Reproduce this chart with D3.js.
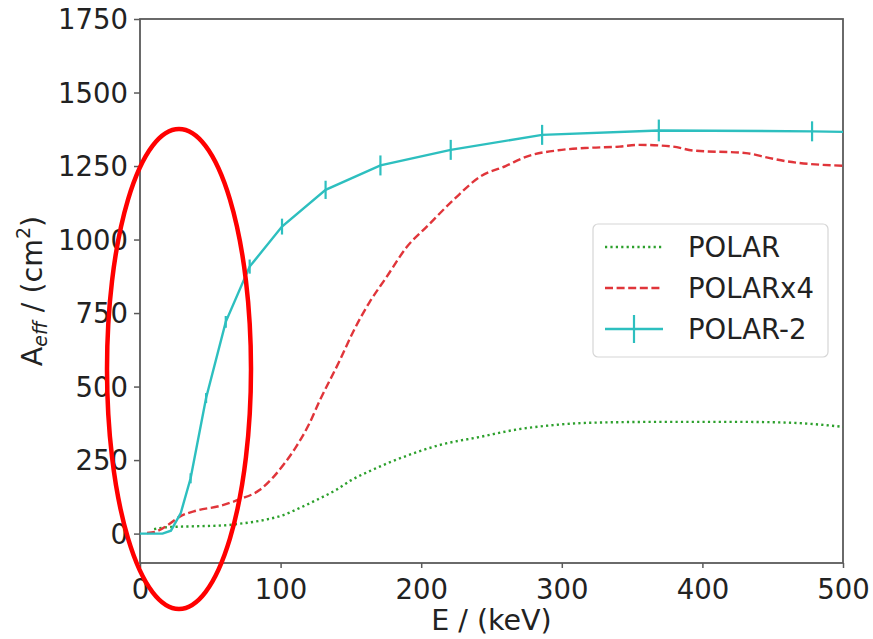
<!DOCTYPE html>
<html>
<head>
<meta charset="utf-8">
<script src="https://cdn.jsdelivr.net/npm/d3@7"></script>
<style>
  html, body { margin: 0; padding: 0; background: #fff; }
  svg { display: block; font-family: "DejaVu Sans", sans-serif; }
</style>
</head>
<body>
<svg id="chart" width="873" height="639"></svg>
<script>
// ----- data -----
// POLAR (green, dotted)
const polarE = [10, 20, 40, 60, 70, 90, 100, 114, 125, 140, 150, 165, 191, 213, 242, 268, 294, 320, 372, 424, 463, 480, 500];
const polarA = [15, 22, 25, 28, 33, 48, 60, 88, 113, 150, 181, 216, 267, 301, 329, 354, 369, 377, 380, 380, 377, 372, 363];

// POLARx4 (red, dashed)
const polarX4E = [5, 12, 20, 28, 40, 56, 71, 85, 95, 103, 111, 120, 128, 142, 152, 163, 175, 190, 204, 223, 242, 260, 275, 300, 320, 341, 355, 379, 393, 431, 448, 460, 500];
const polarX4A = [2, 8, 30, 57, 78, 93, 117, 148, 193, 240, 295, 370, 454, 588, 690, 785, 870, 976, 1044, 1135, 1214, 1250, 1282, 1305, 1312, 1316, 1322, 1316, 1303, 1294, 1277, 1266, 1251];

// POLAR-2 (cyan, with error bars)
const polar2E   = [0, 8, 16, 22, 29, 36, 47, 61, 78, 101, 132, 171, 221, 286, 369, 478, 500];
const polar2A   = [0, 0, 0, 10, 70, 188, 461, 720, 908, 1044, 1169, 1252, 1305, 1356, 1371, 1368, 1366];
const polar2Err = [0, 0, 0, 0, 0, 17, 17, 20, 24, 27, 31, 34, 34, 34, 37, 34, 0];

const xTicks = [0, 100, 200, 300, 400, 500];
const yTicks = [0, 250, 500, 750, 1000, 1250, 1500, 1750];
const legendLabels = ['POLAR', 'POLARx4', 'POLAR-2'];

// ----- layout -----
const svg = d3.select('#chart');
const mLeft = 140, mRight = 843, mTop = 19, mBottom = 563;
const fontSize = 27.5;
const textColor = '#222';
const spineColor = '#5a5a5a';

const x = d3.scaleLinear().domain([0, 500]).range([mLeft, mRight]);
const y = d3.scaleLinear().domain([-100, 1750]).range([mBottom, mTop]);

const colors = { polar: '#2ca02c', x4: '#e0353a', p2: '#2dbfbf' };

// axes
const xAxis = svg.append('g')
  .attr('transform', `translate(0,${mBottom})`)
  .call(d3.axisBottom(x).tickValues(xTicks).tickSize(5).tickPadding(5).tickFormat(d3.format('d')));
const yAxis = svg.append('g')
  .attr('transform', `translate(${mLeft},0)`)
  .call(d3.axisLeft(y).tickValues(yTicks).tickSize(6).tickPadding(6).tickFormat(d3.format('d')));

[xAxis, yAxis].forEach(g => {
  g.select('.domain').remove();
  g.selectAll('.tick line').attr('stroke', spineColor).attr('stroke-width', 1.5);
  g.selectAll('.tick text')
    .attr('fill', textColor)
    .style('font-size', fontSize + 'px')
    .style('font-family', '"DejaVu Sans", sans-serif');
});
xAxis.selectAll('.tick text').attr('dy', '0.93em');
yAxis.selectAll('.tick text').attr('dy', '0.36em');

// frame (all four spines)
svg.append('rect')
  .attr('x', mLeft).attr('y', mTop)
  .attr('width', mRight - mLeft).attr('height', mBottom - mTop)
  .attr('fill', 'none')
  .attr('stroke', spineColor)
  .attr('stroke-width', 1.8);

// clip for the curves
svg.append('clipPath').attr('id', 'plotclip')
  .append('rect').attr('x', mLeft).attr('y', mTop).attr('width', mRight - mLeft).attr('height', mBottom - mTop);

const plot = svg.append('g').attr('clip-path', 'url(#plotclip)');

const smooth = d3.line().x(d => x(d[0])).y(d => y(d[1])).curve(d3.curveMonotoneX);
const straight = d3.line().x(d => x(d[0])).y(d => y(d[1]));

// POLAR
plot.append('path')
  .datum(d3.zip(polarE, polarA))
  .attr('d', smooth)
  .attr('fill', 'none')
  .attr('stroke', colors.polar)
  .attr('stroke-width', 2.4)
  .attr('stroke-dasharray', '2.2,3.2');

// POLARx4
plot.append('path')
  .datum(d3.zip(polarX4E, polarX4A))
  .attr('d', smooth)
  .attr('fill', 'none')
  .attr('stroke', colors.x4)
  .attr('stroke-width', 2.4)
  .attr('stroke-dasharray', '8,3.6');

// POLAR-2
const p2 = d3.zip(polar2E, polar2A, polar2Err);
plot.append('path')
  .datum(p2)
  .attr('d', straight)
  .attr('fill', 'none')
  .attr('stroke', colors.p2)
  .attr('stroke-width', 2.4);

plot.selectAll('line.err')
  .data(p2.filter(d => d[2] > 0))
  .join('line')
  .attr('class', 'err')
  .attr('x1', d => x(d[0])).attr('x2', d => x(d[0]))
  .attr('y1', d => y(d[1] - d[2])).attr('y2', d => y(d[1] + d[2]))
  .attr('stroke', colors.p2)
  .attr('stroke-width', 2.2);

// axis labels
svg.append('text')
  .attr('x', (mLeft + mRight) / 2).attr('y', 630)
  .attr('text-anchor', 'middle')
  .attr('fill', textColor)
  .style('font-size', '28.5px')
  .text('E / (keV)');

const yl = svg.append('text')
  .attr('transform', `translate(42,${(mTop + mBottom) / 2}) rotate(-90)`)
  .attr('text-anchor', 'middle')
  .attr('fill', textColor)
  .style('font-size', '28.5px');
yl.append('tspan').text('A');
yl.append('tspan').attr('dy', 5).style('font-size', '19px').style('font-style', 'italic').text('eff');
yl.append('tspan').attr('dy', -5).text(' / (cm');
yl.append('tspan').attr('dy', -12).style('font-size', '19px').text('2');
yl.append('tspan').attr('dy', 12).text(')');

// legend
const lg = svg.append('g');
lg.append('rect')
  .attr('x', 593).attr('y', 224).attr('width', 235).attr('height', 133)
  .attr('rx', 5)
  .attr('fill', 'rgba(255,255,255,0.85)')
  .attr('stroke', '#d6d6d6')
  .attr('stroke-width', 1.2);

const rowY = [247, 288, 329];
const rowStyles = [
  { color: colors.polar, dash: '2.2,3.2' },
  { color: colors.x4, dash: '8,3.6' },
  { color: colors.p2, dash: null }
];
legendLabels.forEach((lab, i) => {
  const ln = lg.append('line')
    .attr('x1', 605).attr('x2', 663)
    .attr('y1', rowY[i]).attr('y2', rowY[i])
    .attr('stroke', rowStyles[i].color)
    .attr('stroke-width', 2.4);
  if (rowStyles[i].dash) ln.attr('stroke-dasharray', rowStyles[i].dash);
  if (i === 2) {
    lg.append('line')
      .attr('x1', 634).attr('x2', 634)
      .attr('y1', rowY[i] - 14).attr('y2', rowY[i] + 14)
      .attr('stroke', rowStyles[i].color)
      .attr('stroke-width', 2.2);
  }
  lg.append('text')
    .attr('x', 688).attr('y', rowY[i])
    .attr('dy', '0.36em')
    .attr('fill', textColor)
    .style('font-size', fontSize + 'px')
    .text(lab);
});

// red highlight ellipse over the low-energy region
svg.append('ellipse')
  .attr('cx', 179).attr('cy', 369)
  .attr('rx', 72).attr('ry', 240)
  .attr('fill', 'none')
  .attr('stroke', '#ff0000')
  .attr('stroke-width', 4.5);
</script>
</body>
</html>
